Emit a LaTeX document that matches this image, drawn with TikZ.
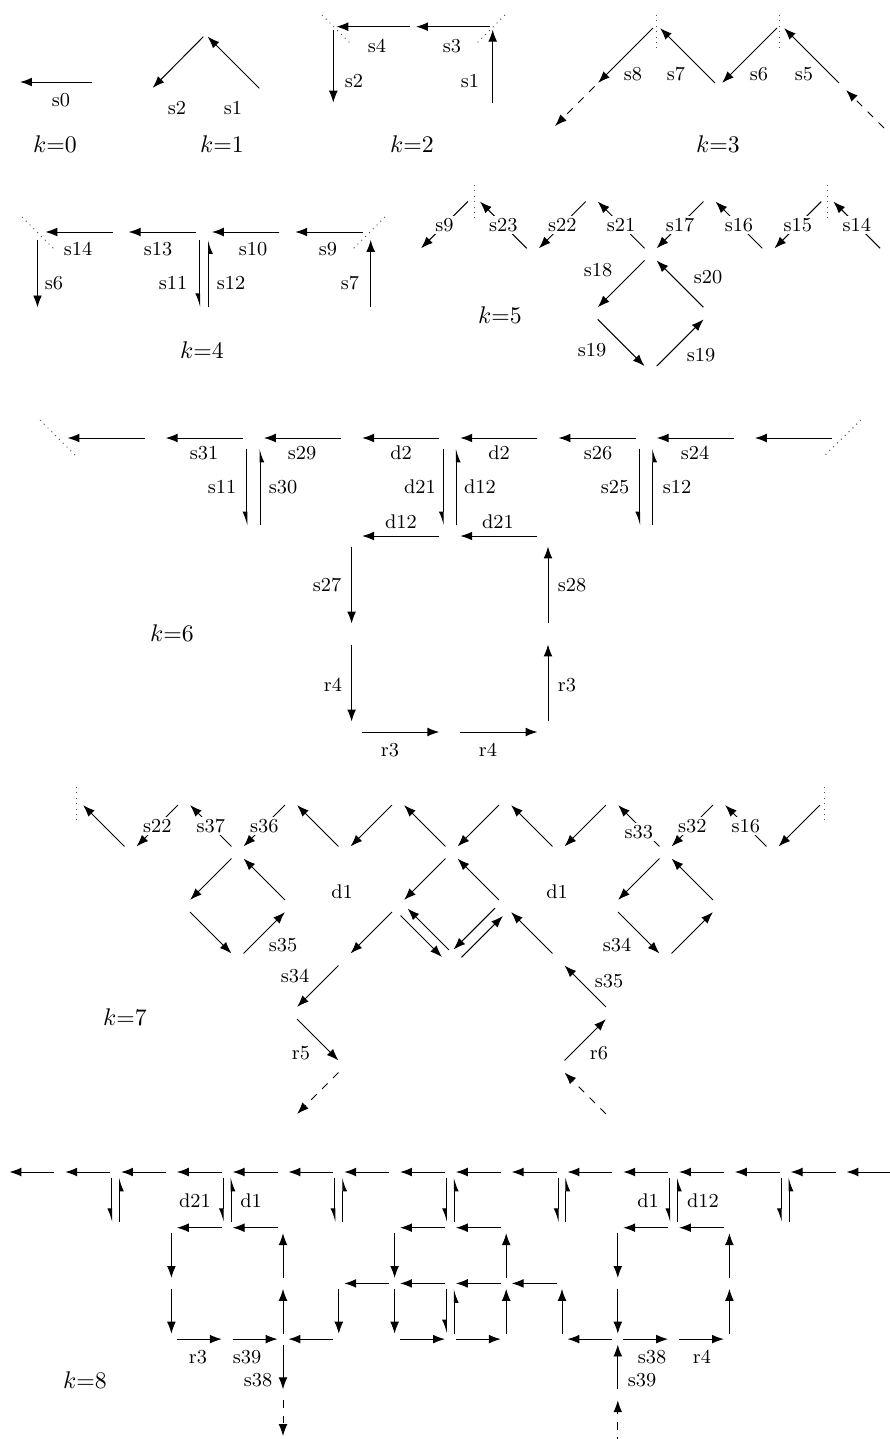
\documentclass[tikz,border=0pt]{standalone}
\usetikzlibrary{arrows.meta}
\tikzset{
  arr/.style={line width=0.45pt, -{Latex[length=5.4pt,width=4pt]}},
  halfarr/.style={line width=0.45pt, -{Latex[length=5.4pt,width=4pt,right]}},
  dasharr/.style={arr, dash pattern=on 3.5pt off 3.5pt},
  dotline/.style={line width=0.45pt, dotted, black!70},
  lab/.style={font=\small, inner sep=0.5pt},
  labon/.style={lab, fill=white, inner sep=1pt},
  klab/.style={font=\fontsize{10.8}{13}\selectfont, inner sep=0pt}
}
\begin{document}
\begin{tikzpicture}[x=0.4545pt, y=-0.4545pt]
\useasboundingbox (0,0) rectangle (889,1439);

% k=0
\coordinate (k0a) at (95,82);
\coordinate (k0b) at (17,82);
\draw[arr, shorten <=1.4pt, shorten >=1.4pt] (k0a) -- (k0b);
\node[lab] (k0s0) at (61,100) {s0};
\node[klab] (k0) at (55,144) {$k$=0};

% k=1
\coordinate (k1t) at (205.5,34.5);
\coordinate (k1l) at (150.5,90);
\coordinate (k1r) at (261.5,90.5);
\begin{scope}[shorten <=1.4pt, shorten >=1.4pt]
  \draw[arr] (k1t) -- (k1l);
  \draw[arr] (k1r) -- (k1t);
\end{scope}
\node[lab] (k1s2) at (177,108) {s2};
\node[lab] (k1s1) at (233,108) {s1};
\node[klab] (k1) at (222,144) {$k$=1};

% k=2
\coordinate (k2a) at (333.3,26.7);
\coordinate (k2m) at (413,26.7);
\coordinate (k2b) at (492.7,26.7);
\coordinate (k2c) at (333.3,105.7);
\coordinate (k2d) at (492.7,105.7);
\begin{scope}[shorten <=1.4pt, shorten >=1.4pt]
  \draw[arr] (k2m) -- (k2a);
  \draw[arr] (k2b) -- (k2m);
  \draw[arr] (k2a) -- (k2c);
  \draw[arr] (k2d) -- (k2b);
\end{scope}
\draw[dotline] (322,15) -- (350,43);
\draw[dotline] (505,15) -- (477,43);
\node[lab] (k2s4) at (377,46) {s4};
\node[lab] (k2s3) at (452,46) {s3};
\node[lab] (k2s2) at (354,81) {s2};
\node[lab] (k2s1) at (470,81) {s1};
\node[klab] (k2) at (412,144) {$k$=2};

% k=3
\coordinate (k3b0) at (594.5,86.5);
\coordinate (k3t1) at (656.5,24.5);
\coordinate (k3b1) at (718.5,86.5);
\coordinate (k3t2) at (780.5,24.5);
\coordinate (k3b2) at (842.5,86.5);
\coordinate (k3e1) at (555,126);
\coordinate (k3e2) at (884,128);
\begin{scope}[shorten <=2.3pt, shorten >=2.3pt]
  \draw[arr] (k3t1) -- (k3b0);
  \draw[arr] (k3b1) -- (k3t1);
  \draw[arr] (k3t2) -- (k3b1);
  \draw[arr] (k3b2) -- (k3t2);
  \draw[dasharr, shorten <=0pt, shorten >=0pt] (k3b0) -- (k3e1);
  \draw[dasharr, shorten <=0pt] (k3e2) -- (k3b2);
\end{scope}
\draw[dotline] (656.5,15) -- (656.5,48);
\draw[dotline] (779.5,15) -- (779.5,48);
\node[lab] (k3s8) at (633,74) {s8};
\node[lab] (k3s7) at (676,74) {s7};
\node[lab] (k3s6) at (759,74) {s6};
\node[lab] (k3s5) at (804,74) {s5};
\node[klab] (k3) at (718,144) {$k$=3};

% k=4
\foreach \i in {0,...,4}
  \foreach \j in {0,1}
    \coordinate (m\i-\j) at ({37.5+83.3*\i},{232+83.3*\j});
\begin{scope}[shorten <=3.6pt, shorten >=3.6pt]
  \foreach \a/\b in {1/0,2/1,3/2,4/3}
    \draw[arr] (m\a-0) -- (m\b-0);
  \draw[arr] (m0-0) -- (m0-1);
  \draw[halfarr] ([xshift=-2pt]m2-0) -- ([xshift=-2pt]m2-1);
  \draw[halfarr] ([xshift=2pt]m2-1) -- ([xshift=2pt]m2-0);
  \draw[arr] (m4-1) -- (m4-0);
\end{scope}
\draw[dotline] (22,217) -- (55,250);
\draw[dotline] (385,217) -- (353,249);
\node[lab] (k4s14) at (78,249) {s14};
\node[lab] (k4s13) at (158,249) {s13};
\node[lab] (k4s10) at (253,249) {s10};
\node[lab] (k4s9) at (328,249) {s9};
\node[lab] (k4s6) at (54,283) {s6};
\node[lab] (k4s11) at (173,283) {s11};
\node[lab] (k4s12) at (231,283) {s12};
\node[lab] (k4s7) at (350,283) {s7};
\node[klab] (k4) at (202,350) {$k$=4};

% k=5
\foreach \i in {0,...,8}
  \foreach \j in {0,...,3}
    \coordinate (f\i-\j) at ({415+58.9*\i},{195.5+58.9*\j});
\begin{scope}[shorten <=3.9pt, shorten >=3.9pt]
  \draw[arr] (f1-0) -- node[labon] (k5s9) {s9} (f0-1);
  \draw[arr] (f2-1) -- node[labon] (k5s23) {s23} (f1-0);
  \draw[arr] (f3-0) -- node[labon] (k5s22) {s22} (f2-1);
  \draw[arr] (f4-1) -- node[labon] (k5s21) {s21} (f3-0);
  \draw[arr] (f5-0) -- node[labon] (k5s17) {s17} (f4-1);
  \draw[arr] (f6-1) -- node[labon] (k5s16) {s16} (f5-0);
  \draw[arr] (f7-0) -- node[labon] (k5s15) {s15} (f6-1);
  \draw[arr] (f8-1) -- node[labon] (k5s14) {s14} (f7-0);
  \draw[arr] (f4-1) -- (f3-2);
  \draw[arr] (f3-2) -- (f4-3);
  \draw[arr] (f4-3) -- (f5-2);
  \draw[arr] (f5-2) -- (f4-1);
\end{scope}
\draw[dotline] (474,185) -- (474,218);
\draw[dotline] (827,185) -- (827,218);
\node[lab] (k5s18) at (598,270) {s18};
\node[lab] (k5s19a) at (592,350) {s19};
\node[lab] (k5s19b) at (701,355) {s19};
\node[lab] (k5s20) at (708,277) {s20};
\node[klab] (k5) at (500,315) {$k$=5};

% k=6
\foreach \i in {0,...,8}
  \foreach \j in {0,...,3}
    \coordinate (e\i-\j) at ({57+98.2*\i},{438+98*\j});
\begin{scope}[shorten <=4.8pt, shorten >=4.8pt]
  \foreach \a/\b in {1/0,2/1,3/2,4/3,5/4,6/5,7/6,8/7}
    \draw[arr] (e\a-0) -- (e\b-0);
  \foreach \i in {2,4,6} {
    \draw[halfarr] ([xshift=-3pt]e\i-0) -- ([xshift=-3pt]e\i-1);
    \draw[halfarr] ([xshift=3pt]e\i-1) -- ([xshift=3pt]e\i-0);
  }
  \draw[arr] (e4-1) -- (e3-1);
  \draw[arr] (e5-1) -- (e4-1);
  \draw[arr] (e3-1) -- (e3-2);
  \draw[arr] (e3-2) -- (e3-3);
  \draw[arr] (e3-3) -- (e4-3);
  \draw[arr] (e4-3) -- (e5-3);
  \draw[arr] (e5-3) -- (e5-2);
  \draw[arr] (e5-2) -- (e5-1);
\end{scope}
\draw[dotline] (40,420) -- (77,457);
\draw[dotline] (861,420) -- (823,457);
\node[lab] (k6s31) at (204,453) {s31};
\node[lab] (k6s29) at (302,453) {s29};
\node[lab] (k6d2a) at (401,453) {d2};
\node[lab] (k6d2b) at (499,453) {d2};
\node[lab] (k6s26) at (598,453) {s26};
\node[lab] (k6s24) at (695,453) {s24};
\node[lab] (k6s11) at (222,487) {s11};
\node[lab] (k6s30) at (283,487) {s30};
\node[lab] (k6d21a) at (420,487) {d21};
\node[lab] (k6d12a) at (480,487) {d12};
\node[lab] (k6s25) at (615,487) {s25};
\node[lab] (k6s12) at (677,487) {s12};
\node[lab] (k6d12b) at (401,522) {d12};
\node[lab] (k6d21b) at (498,522) {d21};
\node[lab] (k6s27) at (327,585) {s27};
\node[lab] (k6s28) at (572,585) {s28};
\node[lab] (k6r4a) at (333,685) {r4};
\node[lab] (k6r3a) at (567,685) {r3};
\node[lab] (k6r3b) at (390,750) {r3};
\node[lab] (k6r4b) at (488,750) {r4};
\node[klab] (k6) at (172,633) {$k$=6};

% k=7
\foreach \c in {0,...,14}
  \foreach \r in {0,...,6}
    \coordinate (g\c-\r) at ({77+53.5*\c},{799+53.5*\r});
\begin{scope}[shorten <=3.9pt, shorten >=3.9pt]
  \foreach \a/\b in {1-1/0-0,5-1/4-0,6-0/5-1,7-1/6-0,8-0/7-1,9-1/8-0,10-0/9-1,14-0/13-1,
                     3-1/2-2,4-2/3-1,7-1/6-2,8-2/7-1,11-1/10-2,12-2/11-1,
                     2-2/3-3,6-2/5-3,9-3/8-2,11-3/12-2}
    \draw[arr] (g\a) -- (g\b);
  \draw[arr] (g2-0) -- node[labon] (k7s22) {s22} (g1-1);
  \draw[arr] (g3-1) -- node[labon] (k7s37) {s37} (g2-0);
  \draw[arr] (g4-0) -- node[labon] (k7s36) {s36} (g3-1);
  \draw[arr] (g11-1) -- node[labon, yshift=-2.7pt] (k7s33) {s33} (g10-0);
  \draw[arr] (g12-0) -- node[labon] (k7s32) {s32} (g11-1);
  \draw[arr] (g13-1) -- node[labon] (k7s16) {s16} (g12-0);
  % double arrows in the middle
  \draw[arr] ([shift={(-1.6pt,-1.6pt)}]g6-2) -- ([shift={(-1.6pt,-1.6pt)}]g7-3);
  \draw[arr] ([shift={(1.6pt,1.6pt)}]g7-3) -- ([shift={(1.6pt,1.6pt)}]g6-2);
  \draw[arr] ([shift={(-1.8pt,1.8pt)}]g8-2) -- ([shift={(-1.8pt,1.8pt)}]g7-3);
  \draw[arr] ([shift={(1.8pt,-1.8pt)}]g7-3) -- ([shift={(1.8pt,-1.8pt)}]g8-2);
  \draw[arr] (g3-3) -- (g4-2);
  \draw[arr] (g10-2) -- (g11-3);
  \draw[arr] (g5-3) -- (g4-4);
  \draw[arr] (g10-4) -- (g9-3);
  \draw[arr] (g4-4) -- (g5-5);
  \draw[arr] (g9-5) -- (g10-4);
  \draw[dasharr] (g5-5) -- (g4-6);
  \draw[dasharr] (g10-6) -- (g9-5);
\end{scope}
\draw[dotline] (76,787) -- (76,822);
\draw[dotline] (824,787) -- (824,822);
\node[lab] (k7d1a) at (342,892) {d1};
\node[lab] (k7d1b) at (557,892) {d1};
\node[lab] (k7s35a) at (283,945) {s35};
\node[lab] (k7s34a) at (617,945) {s34};
\node[lab] (k7s34b) at (295,976) {s34};
\node[lab] (k7s35b) at (609,981) {s35};
\node[lab] (k7r5) at (301,1053) {r5};
\node[lab] (k7r6) at (599,1053) {r6};
\node[klab] (k7) at (125,1017) {$k$=7};

% k=8
\foreach \i in {0,...,16}
  \foreach \j in {0,...,5}
    \coordinate (h\i-\j) at ({4+55.8*\i},{1172+55.7*\j});
\coordinate (k8e1) at (283,1436);
\begin{scope}[shorten <=2.5pt, shorten >=2.5pt]
  \foreach \i in {0,...,15} {
    \pgfmathtruncatemacro\n{\i+1}
    \draw[arr] (h\n-0) -- (h\i-0);
  }
  \foreach \i in {2,4,...,14} {
    \draw[halfarr] ([xshift=-1.8pt]h\i-0) -- ([xshift=-1.8pt]h\i-1);
    \draw[halfarr] ([xshift=1.8pt]h\i-1) -- ([xshift=1.8pt]h\i-0);
  }
  \draw[halfarr] ([xshift=-1.8pt]h8-2) -- ([xshift=-1.8pt]h8-3);
  \draw[halfarr] ([xshift=1.8pt]h8-3) -- ([xshift=1.8pt]h8-2);
  \foreach \a/\b in {4-1/3-1,5-1/4-1,8-1/7-1,9-1/8-1,12-1/11-1,13-1/12-1,
                     3-1/3-2,5-2/5-1,7-1/7-2,9-2/9-1,11-1/11-2,13-2/13-1,
                     7-2/6-2,8-2/7-2,9-2/8-2,10-2/9-2,
                     3-2/3-3,5-3/5-2,6-2/6-3,7-2/7-3,9-3/9-2,10-3/10-2,11-2/11-3,13-3/13-2,
                     3-3/4-3,4-3/5-3,6-3/5-3,7-3/8-3,8-3/9-3,11-3/10-3,11-3/12-3,12-3/13-3,
                     5-3/5-4,11-4/11-3}
    \draw[arr] (h\a) -- (h\b);
  \draw[dasharr, shorten >=0pt] (h5-4) -- (k8e1);
  \draw[dasharr] (h11-5) -- (h11-4);
\end{scope}
\node[lab] (k8d21) at (195,1201) {d21};
\node[lab] (k8d1a) at (251,1201) {d1};
\node[lab] (k8d1b) at (648,1201) {d1};
\node[lab] (k8d12) at (703,1201) {d12};
\node[lab] (k8r3) at (198,1357) {r3};
\node[lab] (k8s39a) at (247,1357) {s39};
\node[lab] (k8s38a) at (258,1380) {s38};
\node[lab] (k8s38b) at (652,1357) {s38};
\node[lab] (k8r4) at (702,1357) {r4};
\node[lab] (k8s39b) at (642,1380) {s39};
\node[klab] (k8) at (85,1380) {$k$=8};
\end{tikzpicture}
\end{document}
